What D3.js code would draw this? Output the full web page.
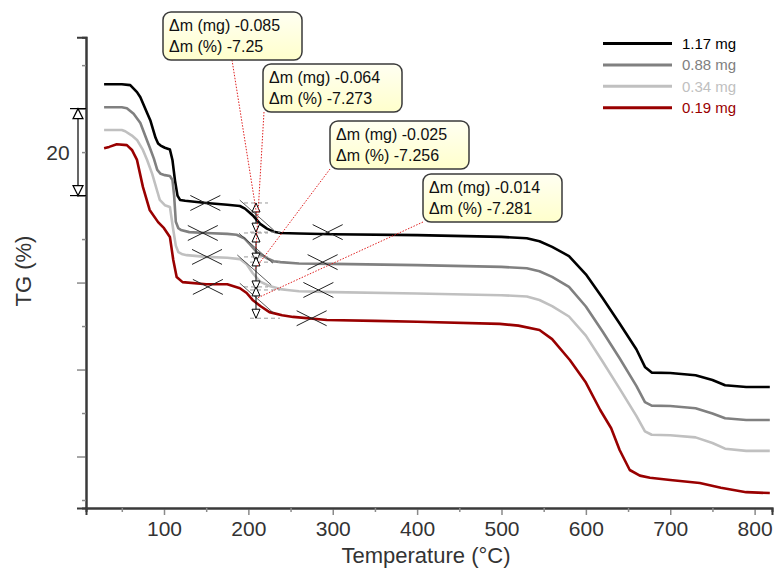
<!DOCTYPE html>
<html>
<head>
<meta charset="utf-8">
<script src="https://cdnjs.cloudflare.com/ajax/libs/d3/7.8.5/d3.min.js"></script>
<style>
body { margin: 0; background: #fff; }
text { font-family: "Liberation Sans", Arial, sans-serif; }
</style>
</head>
<body>
<script>
// data (temperature in °C, TG in % on the shifted axis)
var seriesNames = ["1.17 mg", "0.88 mg", "0.34 mg", "0.19 mg"];
var seriesColors = ["#000000", "#808080", "#c0c0c0", "#990000"];

var temp117 = [29,50,60,68,72,80,84,90,93,96,101,107,110,113,116,119,125,150,175,190,196,202,206,214,222,230,238,260,300,400,500,530,545,560,580,600,620,640,660,670,678,700,730,750,765,790,818];
var tg117 = [95.6,95.6,95.4,93.8,92.6,89.0,87.2,83.3,82.0,81.5,81.0,80.6,78.2,73.5,70.0,69.0,68.8,68.3,67.9,67.6,67.0,66.0,65.3,63.5,62.4,61.7,61.4,61.3,61.1,60.9,60.5,60.2,59.5,58.2,56.1,51.9,46.4,40.6,34.6,30.6,29.3,29.2,28.7,27.6,26.4,26.0,26.0];

var temp088 = [29,50,56,64,72,80,83,88,92,96,101,107,110,112,114,117,120,130,150,175,186,195,202,210,222,230,238,260,300,400,500,530,545,560,580,600,620,640,660,670,678,700,730,750,765,790,818];
var tg088 = [90.3,90.3,90.1,88.8,86.7,82.6,81.1,78.5,75.9,75.0,74.7,74.5,73.6,70.0,64.0,62.5,62.1,61.6,61.4,61.2,61.0,60.2,58.8,57.0,55.6,54.9,54.7,54.4,54.3,54.0,53.6,53.3,52.6,51.3,49.0,44.5,38.7,32.6,26.2,22.5,21.7,21.6,21.1,19.9,18.8,18.4,18.4];

var temp034 = [29,50,54,62,68,75,80,86,92,95,101,107,111,114,117,122,127,150,175,190,198,205,214,225,238,246,260,300,400,500,530,545,560,580,600,620,640,660,670,678,700,730,750,765,790,818];
var tg034 = [85.1,85.1,84.8,83.8,82.8,80.5,78.2,75.0,71.0,69.0,67.8,67.4,62.1,58.5,57.0,56.5,56.3,55.9,55.7,55.4,54.2,52.2,50.2,49.2,48.5,48.3,48.0,47.8,47.5,47.1,46.8,46.0,44.6,42.2,37.8,31.8,25.6,19.3,15.8,15.0,14.9,14.4,13.1,11.8,11.3,11.3];

var temp019 = [29,35,44,56,62,68,75,83,93,100,107,111,115,122,150,175,190,198,205,215,225,240,253,293,350,400,498,520,545,560,581,600,617,630,640,652,664,676,700,735,760,790,818];
var tg019 = [80.9,81.2,81.8,81.6,80.5,78.2,72.0,66.7,63.9,62.5,60.5,55.2,51.3,50.1,49.6,49.6,48.7,47.6,46.0,44.5,43.2,42.5,42.1,41.4,41.2,41.0,40.5,40.1,39.1,37.0,32.2,27.0,20.7,16.5,11.5,6.9,5.6,5.1,4.6,3.9,2.8,1.8,1.6];

var tempTicks = [100,200,300,400,500,600,700,800];

// step evaluation: crosses before/after the step, and the step point
var cross1T = [149,146,151,152], cross1V = [68.3,61.4,55.9,49.0];
var cross2T = [294,288,283,275], cross2V = [61.6,54.7,48.3,41.8];
var stepT = [210,209,207,210], stepV = [65.5,57.9,52.9,46.4];
var dmMg = ["-0.085","-0.064","-0.025","-0.014"];
var dmPct = ["-7.25","-7.273","-7.256","-7.281"];

var W = 774, H = 568;
var svg = d3.select("body").append("svg").attr("width", W).attr("height", H);

var x = d3.scaleLinear().domain([7.56, 820.6]).range([86, 772]);
var y = d3.scaleLinear().domain([-1.84, 106.4]).range([508, 37.3]);

var defs = svg.append("defs");
defs.append("clipPath").attr("id", "plot")
    .append("rect").attr("x", 86).attr("y", 37).attr("width", 686).attr("height", 471);
var gr = defs.append("linearGradient").attr("id", "boxfill")
    .attr("x1", 0).attr("y1", 0).attr("x2", 0).attr("y2", 1);
gr.append("stop").attr("offset", "0%").attr("stop-color", "#fffff2");
gr.append("stop").attr("offset", "100%").attr("stop-color", "#ffffcc");

// axes
var xMajor = svg.append("g").attr("transform", "translate(0,508)")
    .call(d3.axisBottom(x).tickValues(tempTicks).tickSize(7).tickPadding(6).tickFormat(d3.format("d")));
var xMinor = svg.append("g").attr("transform", "translate(0,508)")
    .call(d3.axisBottom(x).tickValues(tempTicks.map(function (d) { return d - 50; })).tickSize(4).tickFormat(""));
var yMajor = svg.append("g").attr("transform", "translate(86,0)")
    .call(d3.axisLeft(y).tickValues([10,30,50,70,90]).tickSize(9).tickFormat(""));
var yMinor = svg.append("g").attr("transform", "translate(86,0)")
    .call(d3.axisLeft(y).tickValues([0,20,40,60,80,100]).tickSize(4).tickFormat(""));

[xMajor, xMinor, yMajor, yMinor].forEach(function (g) {
    g.select(".domain").attr("stroke", "#3a3a3a").attr("stroke-width", 2);
    g.selectAll(".tick line").attr("stroke", "#8a8a8a").attr("stroke-width", 1.5);
});
xMajor.selectAll(".tick text").attr("font-size", 21).attr("fill", "#333")
    .attr("font-family", "'Liberation Sans', Arial, sans-serif");

svg.append("text").attr("x", 426).attr("y", 563).attr("text-anchor", "middle")
    .attr("font-size", 22).attr("fill", "#333").text("Temperature (°C)");
svg.append("text").attr("transform", "translate(31,271) rotate(-90)").attr("text-anchor", "middle")
    .attr("font-size", 22).attr("fill", "#333").text("TG (%)");

// 20 % scale bar
var sb = svg.append("g").attr("stroke", "#000").attr("stroke-width", 1.2).attr("fill", "#fff");
sb.append("line").attr("x1", 70).attr("x2", 86).attr("y1", y(90)).attr("y2", y(90));
sb.append("line").attr("x1", 70).attr("x2", 86).attr("y1", y(70)).attr("y2", y(70));
sb.append("line").attr("x1", 78).attr("x2", 78).attr("y1", y(90)).attr("y2", y(70));
sb.append("path").attr("d", "M78," + y(90) + " l-5,10 h10 z");
sb.append("path").attr("d", "M78," + y(70) + " l-5,-10 h10 z");
svg.append("text").attr("x", 58).attr("y", 160).attr("text-anchor", "middle")
    .attr("font-size", 21).attr("fill", "#333").text("20");

// curves
var series = [[temp117, tg117], [temp088, tg088], [temp034, tg034], [temp019, tg019]];
var line = d3.line().x(function (d) { return x(d[0]); }).y(function (d) { return y(d[1]); });
var plot = svg.append("g").attr("clip-path", "url(#plot)");
plot.selectAll("path.curve").data(series).enter().append("path")
    .attr("class", "curve")
    .attr("d", function (s) { return line(d3.zip(s[0], s[1])); })
    .attr("fill", "none")
    .attr("stroke", function (s, i) { return seriesColors[i]; })
    .attr("stroke-width", 2.6)
    .attr("stroke-linejoin", "round");

// step marks
var marks = svg.append("g");
var bx = 256;
seriesNames.forEach(function (n, i) {
    var yu = y(cross1V[i]), yl = y(cross2V[i]);
    [[x(cross1T[i]), yu], [x(cross2T[i]), yl]].forEach(function (p) {
        marks.append("path")
            .attr("d", "M" + (p[0] - 15) + "," + (p[1] - 7.5) + "L" + (p[0] + 15) + "," + (p[1] + 7.5) +
                "M" + (p[0] - 15) + "," + (p[1] + 7.5) + "L" + (p[0] + 15) + "," + (p[1] - 7.5))
            .attr("stroke", "#222").attr("stroke-width", 1).attr("fill", "none");
    });
    marks.append("line").attr("x1", 244).attr("x2", 268).attr("y1", yu).attr("y2", yu)
        .attr("stroke", "#999").attr("stroke-dasharray", "4,3");
    marks.append("line").attr("x1", 250).attr("x2", 280).attr("y1", yl).attr("y2", yl)
        .attr("stroke", "#999").attr("stroke-dasharray", "4,3");
    var sx = x(stepT[i]), sy = y(stepV[i]);
    marks.append("line").attr("x1", sx - 17).attr("y1", sy - 15).attr("x2", sx + 17).attr("y2", sy + 15)
        .attr("stroke", "#333").attr("stroke-width", 0.8);
    marks.append("line").attr("x1", bx).attr("x2", bx).attr("y1", yu).attr("y2", yl)
        .attr("stroke", "#000").attr("stroke-width", 1);
    marks.append("path").attr("d", "M" + bx + "," + yu + " l-4,9 h8 z")
        .attr("stroke", "#000").attr("fill", "#fff");
    marks.append("path").attr("d", "M" + bx + "," + yl + " l-4,-9 h8 z")
        .attr("stroke", "#000").attr("fill", "#fff");
});

// annotations
var boxes = [[163, 12, 232], [263, 64, 264], [330, 121, 330], [423, 174, 423]];
var ann = svg.append("g");
boxes.forEach(function (b, i) {
    ann.append("line").attr("x1", b[2]).attr("y1", b[1] + 48)
        .attr("x2", x(stepT[i])).attr("y2", y(stepV[i]))
        .attr("stroke", "#e02020").attr("stroke-width", 1).attr("stroke-dasharray", "1.5,1.5");
});
boxes.forEach(function (b, i) {
    ann.append("rect").attr("x", b[0]).attr("y", b[1]).attr("width", 139).attr("height", 48)
        .attr("rx", 8).attr("fill", "url(#boxfill)").attr("stroke", "#3a3a3a").attr("stroke-width", 1.5);
    ann.append("text").attr("x", b[0] + 6).attr("y", b[1] + 19).attr("font-size", 16).attr("fill", "#111")
        .text("Δm (mg) " + dmMg[i]);
    ann.append("text").attr("x", b[0] + 6).attr("y", b[1] + 40).attr("font-size", 16).attr("fill", "#111")
        .text("Δm (%) " + dmPct[i]);
});

// legend
var lg = svg.append("g");
seriesNames.forEach(function (n, i) {
    var ly = 43.5 + i * 21.4;
    lg.append("line").attr("x1", 603).attr("x2", 672).attr("y1", ly).attr("y2", ly)
        .attr("stroke", seriesColors[i]).attr("stroke-width", 3);
    lg.append("text").attr("x", 682).attr("y", ly + 5.5).attr("font-size", 15)
        .attr("fill", seriesColors[i]).text(n);
});
</script>
</body>
</html>
